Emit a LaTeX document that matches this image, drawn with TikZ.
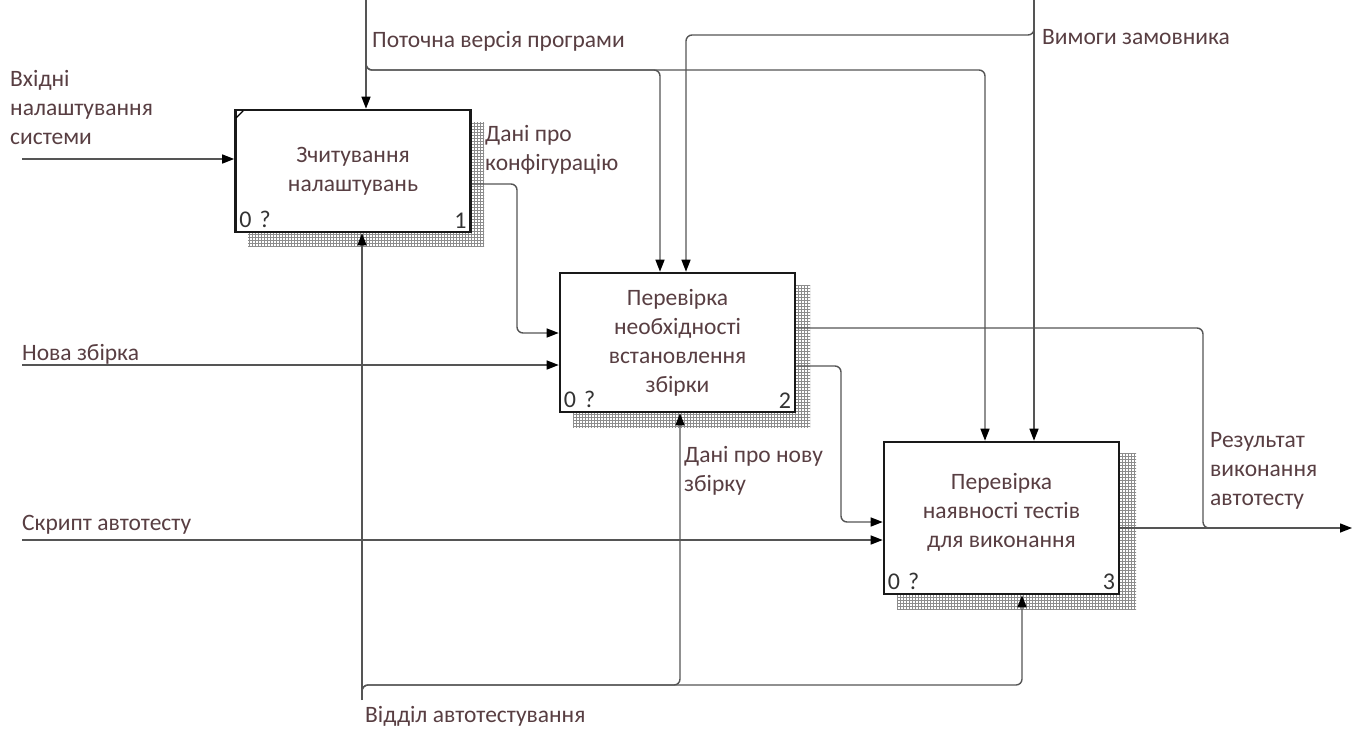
\documentclass[tikz,border=0pt]{standalone}
\usepackage{fontspec}
\setmainfont{Carlito}
\usetikzlibrary{arrows.meta,patterns,calc}
\definecolor{txt}{RGB}{88,62,66}
\definecolor{wire}{RGB}{85,85,85}
\begin{document}
\begin{tikzpicture}[x=1pt,y=-1pt,
  font=\fontsize{23.5}{29}\selectfont,
  box/.style={draw=black!90, line width=2.6pt, fill=white, align=center,
    text=txt, inner sep=0pt, minimum width=235pt},
  boxshadow/.style={pattern=grid, pattern color=gray!90},
  wire/.style={draw=wire, line width=1.4pt, rounded corners=6pt},
  arr/.style={wire, -{Triangle[length=12pt,width=9pt,color=black]}},
  lbl/.style={text=txt, inner sep=0pt, align=left},
  corner/.style={text=black!80, inner sep=0pt, font=\fontsize{24}{26}\selectfont}]
\useasboundingbox (0,0) rectangle (1365,729);

% drop shadows of the three activity boxes
\fill[boxshadow] (248,122) rectangle (484,246);
\fill[boxshadow] (573,285) rectangle (810,427);
\fill[boxshadow] (897,453) rectangle (1136,609);

% activity boxes
\node[box, minimum height=122pt] (b1) at (353,171) {Зчитування\\налаштувань};
\node[box, minimum height=139pt] (b2) at (677.5,342.5) {Перевірка\\необхідності\\встановлення\\збірки};
\node[box, minimum height=152pt, text depth=15pt] (b3) at (1001.5,518) {Перевірка\\наявності тестів\\для виконання};

% corner marks
\draw[line width=1.2pt] ($(b1.north west)+(2,9)$) -- ($(b1.north west)+(9,2)$);
\foreach \b/\n in {b1/1,b2/2,b3/3}{
  \node[corner, anchor=south west] (\b q) at ($(\b.south west)+(5,-5)$) {0\,\,?};
  \node[corner, anchor=south east] (\b n) at ($(\b.south east)+(-5,-5)$) {\n};
}

% free ends of the boundary arrows
\coordinate (i1) at (22,159);
\coordinate (i2) at (22,365);
\coordinate (i3) at (22,540);
\coordinate (c1) at (366,0);
\coordinate (c2) at (1034,0);
\coordinate (m1) at (362,700);
\coordinate (o1) at (1352,528);

% inputs
\draw[arr] (i1) -- (i1 -| b1.west);
\draw[arr] (i2) -- (i2 -| b2.west);
\draw[arr] (i3) -- (i3 -| b3.west);

% controls
\draw[arr] (c1) -- (c1 |- b1.north);
\draw[arr] ($(c1)+(0,60)$) |- (660,70) -- (660,0 |- b2.north);
\draw[arr] ($(c1)+(0,60)$) |- (985,70) -- (985,0 |- b3.north);
\draw[arr] (c2) -- (c2 |- b3.north);
\draw[arr] ($(c2)+(0,26)$) |- (686,35) -- (686,0 |- b2.north);

% mechanism
\draw[arr] (m1) -- (m1 |- b1.south);
\draw[arr] ($(m1)+(0,-7)$) |- (680,685) -- (680,0 |- b2.south);
\draw[arr] ($(m1)+(0,-7)$) |- (1022,685) -- (1022,0 |- b3.south);

% internal flows
\draw[arr] (b1.east |- 0,184) -- (517,184) -- (517,333) -- (b2.west |- 0,333);
\draw[arr] (b2.east |- 0,366) -- (841,366) -- (841,522) -- (b3.west |- 0,522);

% outputs
\draw[wire] (b2.east |- 0,328) -- (1203,328) -- (1203,528) -- (1216,528);
\draw[arr] (b3.east |- o1) -- (o1);

% arrow labels
\node[lbl, anchor=north west] (t1) at (10,70) {Вхідні\\налаштування\\системи};
\node[lbl, anchor=north west] (t2) at (372,31) {Поточна версія програми};
\node[lbl, anchor=north west] (t3) at (1042,29) {Вимоги замовника};
\node[lbl, anchor=north west] (t4) at (485,125) {Дані про\\конфігурацію};
\node[lbl, anchor=north west] (t5) at (22,344) {Нова збірка};
\node[lbl, anchor=north west] (t6) at (684,446) {Дані про нову\\збірку};
\node[lbl, anchor=north west] (t7) at (22,515) {Скрипт автотесту};
\node[lbl, anchor=north west] (t8) at (1210,432) {Результат\\виконання\\автотесту};
\node[lbl, anchor=north west] (t9) at (365,706) {Відділ автотестування};
\end{tikzpicture}
\end{document}
